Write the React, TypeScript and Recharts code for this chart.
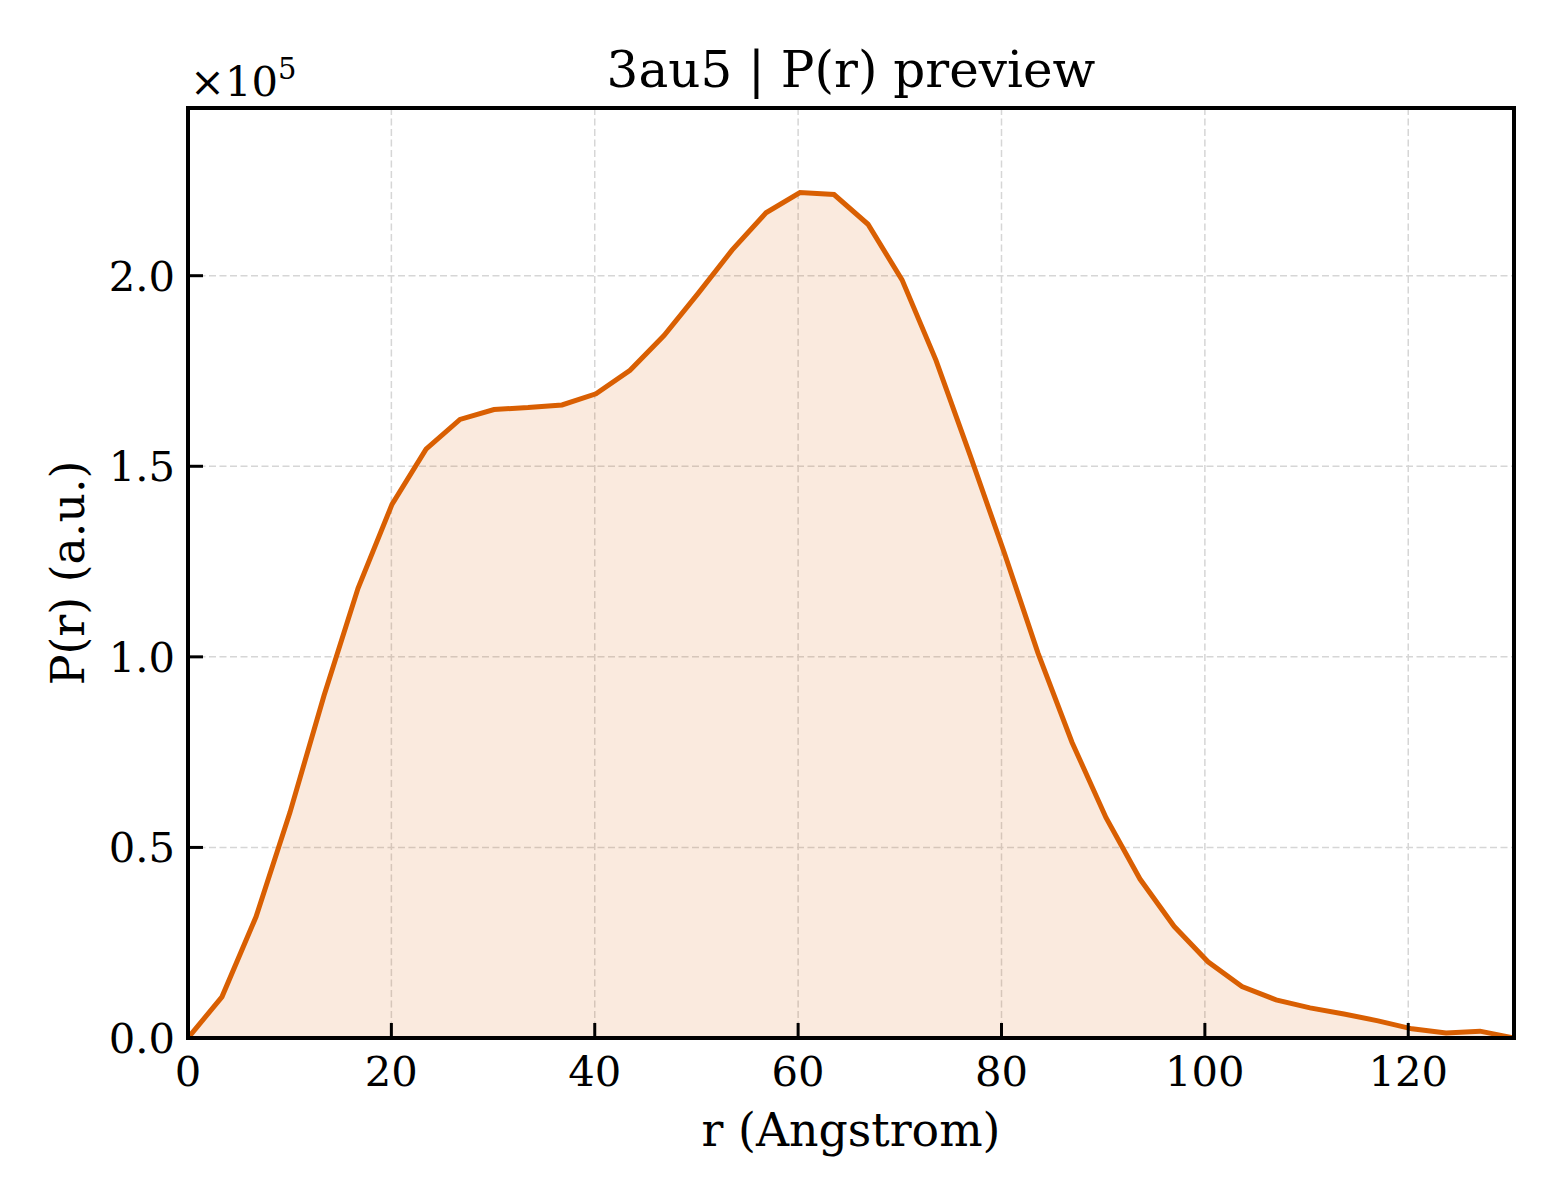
import React from "react";
import {
  AreaChart,
  Area,
  XAxis,
  YAxis,
  CartesianGrid,
  ReferenceArea,
} from "recharts";

// r (Angstrom)
const R_VALUES = [
  0, 3.34, 6.69, 10.03, 13.37, 16.72, 20.06, 23.41, 26.75, 30.09, 33.44, 36.78,
  40.12, 43.47, 46.81, 50.15, 53.5, 56.84, 60.18, 63.53, 66.87, 70.22, 73.56,
  76.9, 80.25, 83.59, 86.93, 90.28, 93.62, 96.97, 100.31, 103.65, 107.0, 110.34,
  113.68, 117.03, 120.37, 123.72, 127.06, 130.4,
];

// P(r) (a.u.)
const P_VALUES = [
  0, 10800, 31800, 59200, 89800, 118000, 140000, 154500, 162300, 164900,
  165400, 166100, 169000, 175200, 184300, 195300, 206700, 216500, 221800,
  221300, 213500, 198900, 177800, 153000, 127500, 101000, 77600, 57800, 41700,
  29300, 20000, 13500, 10000, 7900, 6300, 4500, 2400, 1300, 1800, 0,
];

const X_TICKS = [0, 20, 40, 60, 80, 100, 120];
const Y_TICKS = [0, 50000, 100000, 150000, 200000];
const X_DOMAIN = [0, 130.4];
const Y_DOMAIN = [0, 244000];

const TITLE = "3au5 | P(r) preview";
const X_LABEL = "r (Angstrom)";
const Y_LABEL = "P(r) (a.u.)";

const data = R_VALUES.map((r, i) => ({ r, p: P_VALUES[i] }));

const FONT = "'DejaVu Serif', serif";
const COLOR = "#d95f02";
const PLOT_LEFT = 188;
const PLOT_BOTTOM = 1038;
const TICK_LEN = 15;

const XTick = (props: any) => {
  const { x, payload } = props;
  return (
    <g>
      <line
        x1={x}
        x2={x}
        y1={PLOT_BOTTOM - TICK_LEN}
        y2={PLOT_BOTTOM}
        stroke="#000"
        strokeWidth={3}
      />
      <text
        x={x}
        y={1086}
        textAnchor="middle"
        fontSize={41.7}
        fontFamily={FONT}
        fill="#000"
      >
        {payload.value}
      </text>
    </g>
  );
};

const YTick = (props: any) => {
  const { y, payload } = props;
  return (
    <g>
      <line
        x1={PLOT_LEFT}
        x2={PLOT_LEFT + TICK_LEN}
        y1={y}
        y2={y}
        stroke="#000"
        strokeWidth={3}
      />
      <text
        x={175}
        y={y + 14.8}
        textAnchor="end"
        fontSize={41.7}
        fontFamily={FONT}
        fill="#000"
      >
        {(payload.value / 1e5).toFixed(1)}
      </text>
    </g>
  );
};

export default function App() {
  return (
    <div
      style={{
        position: "absolute",
        left: 0,
        top: 0,
        width: 1560,
        height: 1200,
        background: "#ffffff",
      }}
    >
      <AreaChart
        width={1560}
        height={1200}
        data={data}
        margin={{ top: 108, right: 46, left: 0, bottom: 0 }}
      >
        <CartesianGrid
          stroke="#d6d6d6"
          strokeWidth={1.5}
          strokeDasharray="7 3.5"
        />
        <Area
          type="linear"
          dataKey="p"
          stroke={COLOR}
          strokeWidth={5}
          fill={COLOR}
          fillOpacity={0.13}
          dot={false}
          activeDot={false}
          isAnimationActive={false}
        />
        <XAxis
          dataKey="r"
          type="number"
          domain={X_DOMAIN}
          ticks={X_TICKS}
          interval={0}
          allowDataOverflow
          height={162}
          axisLine={false}
          tickLine={false}
          tickSize={0}
          tick={<XTick />}
          label={{
            content: () => (
              <text
                x={851}
                y={1146}
                textAnchor="middle"
                fontSize={45.8}
                fontFamily={FONT}
                fill="#000"
              >
                {X_LABEL}
              </text>
            ),
          }}
        />
        <YAxis
          type="number"
          domain={Y_DOMAIN}
          ticks={Y_TICKS}
          interval={0}
          allowDataOverflow
          width={188}
          axisLine={false}
          tickLine={false}
          tickSize={0}
          tick={<YTick />}
          label={{
            content: () => (
              <text
                x={68}
                y={573}
                transform="rotate(-90, 68, 573)"
                textAnchor="middle"
                dominantBaseline="central"
                fontSize={45.8}
                fontFamily={FONT}
                fill="#000"
              >
                {Y_LABEL}
              </text>
            ),
          }}
        />
        <ReferenceArea
          x1={X_DOMAIN[0]}
          x2={X_DOMAIN[1]}
          y1={Y_DOMAIN[0]}
          y2={Y_DOMAIN[1]}
          fill="none"
          fillOpacity={0}
          stroke="#000"
          strokeWidth={4}
          ifOverflow="visible"
        />
      </AreaChart>
      <svg
        width={1560}
        height={1200}
        style={{ position: "absolute", left: 0, top: 0, pointerEvents: "none" }}
      >
        <text
          x={851}
          y={87}
          textAnchor="middle"
          fontSize={50}
          fontFamily={FONT}
          fill="#000"
        >
          {TITLE}
        </text>
        <text x={190} y={96} fontSize={41.7} fontFamily={FONT} fill="#000">
          ×10
          <tspan fontSize={29} dy={-17}>
            5
          </tspan>
        </text>
      </svg>
    </div>
  );
}
